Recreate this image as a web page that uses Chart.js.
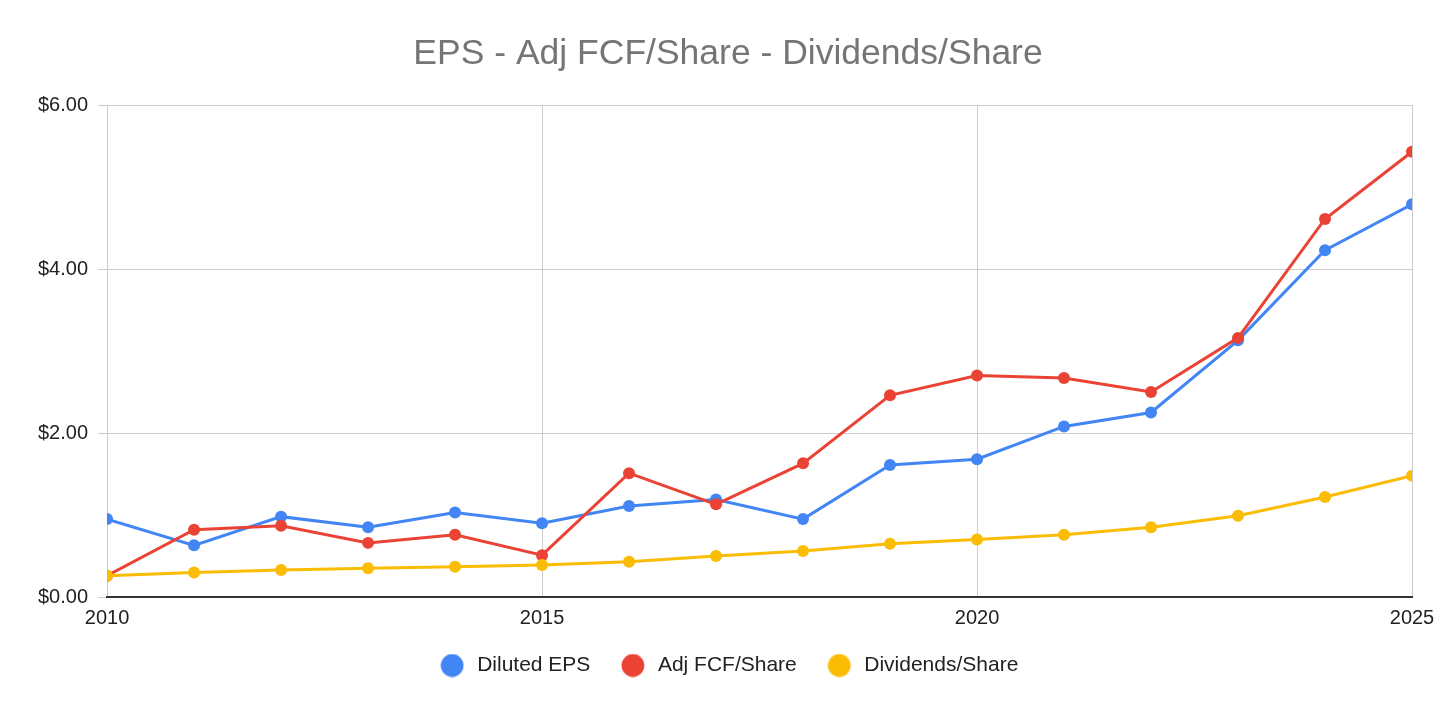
<!DOCTYPE html>
<html>
<head>
<meta charset="utf-8">
<script src="https://cdn.jsdelivr.net/npm/chart.js@4/dist/chart.umd.min.js"></script>
<style>
  html, body { margin: 0; padding: 0; background: #fff; }
  #wrap { width: 1456px; height: 710px; }
</style>
</head>
<body>
<div id="wrap"><canvas id="epsChart" width="1456" height="710"></canvas></div>
<script>
const years = [2010, 2011, 2012, 2013, 2014, 2015, 2016, 2017, 2018, 2019, 2020, 2021, 2022, 2023, 2024, 2025];
const dilutedEps = [0.95, 0.63, 0.98, 0.85, 1.03, 0.90, 1.11, 1.19, 0.95, 1.61, 1.68, 2.08, 2.25, 3.13, 4.23, 4.79];
const adjFcfShare = [0.26, 0.82, 0.87, 0.66, 0.76, 0.51, 1.51, 1.13, 1.63, 2.46, 2.70, 2.67, 2.50, 3.16, 4.61, 5.43];
const dividendsShare = [0.26, 0.30, 0.33, 0.35, 0.37, 0.39, 0.43, 0.50, 0.56, 0.65, 0.70, 0.76, 0.85, 0.99, 1.22, 1.48];
const xTicks = [2010, 2015, 2020, 2025];
const yTicks = [0, 2, 4, 6];

const FONT = "'Liberation Sans', Arial, sans-serif";

// round legend marker, drawn once per colour
function legendDot(color) {
  const c = document.createElement('canvas');
  c.width = 24;
  c.height = 24;
  const g = c.getContext('2d');
  g.fillStyle = color;
  g.beginPath();
  g.arc(12, 12, 11.4, 0, Math.PI * 2);
  g.fill();
  return c;
}

function series(label, values, color, order) {
  return {
    label: label,
    data: years.map((y, i) => ({ x: y, y: values[i] })),
    borderColor: color,
    backgroundColor: color,
    borderWidth: 3,
    pointRadius: 6,
    pointBorderWidth: 0,
    pointBackgroundColor: color,
    tension: 0,
    order: order
  };
}

// title and legend are centred on the whole canvas, not on the padded box
const centerOnCanvas = {
  id: 'centerOnCanvas',
  afterLayout(chart) {
    [chart.titleBlock, chart.legend].forEach(b => {
      if (b) { b.left = 0; b.right = chart.width; }
    });
  }
};

new Chart(document.getElementById('epsChart'), {
  type: 'line',
  data: {
    datasets: [
      series('Diluted EPS', dilutedEps, '#4285f4', 3),
      series('Adj FCF/Share', adjFcfShare, '#ea4335', 2),
      series('Dividends/Share', dividendsShare, '#fbbc04', 1)
    ]
  },
  plugins: [centerOnCanvas],
  options: {
    responsive: false,
    animation: false,
    layout: { padding: { left: 28, right: 44, top: 0, bottom: 24 } },
    plugins: {
      title: {
        display: true,
        text: 'EPS - Adj FCF/Share - Dividends/Share',
        color: '#757575',
        font: { family: FONT, size: 35.5, weight: 'normal' },
        padding: { top: 32.5, bottom: 29.9 }
      },
      legend: {
        position: 'bottom',
        labels: {
          usePointStyle: true,
          pointStyleWidth: 29,
          boxHeight: 16,
          padding: 28,
          color: '#222',
          font: { family: FONT, size: 21 },
          generateLabels: chart => {
            const items = Chart.defaults.plugins.legend.labels.generateLabels(chart);
            items.forEach(it => { it.pointStyle = legendDot(chart.data.datasets[it.datasetIndex].borderColor); });
            return items;
          },
          sort: (a, b) => a.datasetIndex - b.datasetIndex
        }
      },
      tooltip: { enabled: false }
    },
    scales: {
      x: {
        type: 'linear',
        min: 2010,
        max: 2025,
        afterBuildTicks: axis => { axis.ticks = xTicks.map(v => ({ value: v })); },
        afterFit: axis => { axis.height = 30; },
        ticks: {
          color: '#222',
          font: { family: FONT, size: 20, lineHeight: 1 },
          padding: 11,
          maxRotation: 0,
          callback: v => String(v)
        },
        grid: { color: '#cccccc', drawTicks: false },
        border: { display: true, color: '#333', width: 2 }
      },
      y: {
        min: 0,
        max: 6,
        afterBuildTicks: axis => { axis.ticks = yTicks.map(v => ({ value: v })); },
        ticks: {
          color: '#222',
          font: { family: FONT, size: 20 },
          padding: 10,
          callback: v => '$' + v.toFixed(2)
        },
        grid: { color: '#cccccc', tickLength: 9 },
        border: { display: false }
      }
    }
  }
});
</script>
</body>
</html>
